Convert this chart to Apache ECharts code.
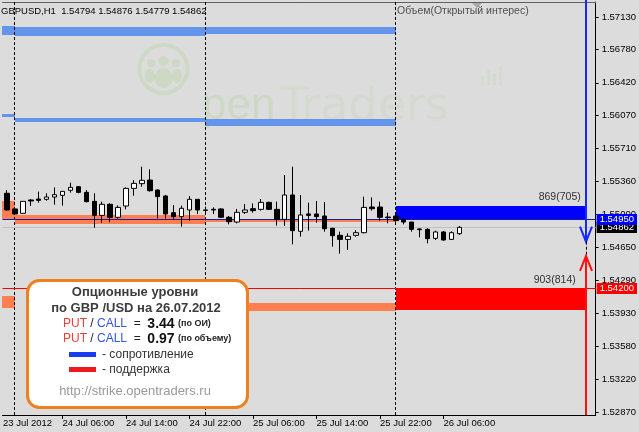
<!DOCTYPE html>
<html>
<head>
<meta charset="utf-8" />
<script src="https://cdn.jsdelivr.net/npm/echarts@6/dist/echarts.min.js"></script>
<title>GBPUSD,H1</title>
<style>
html, body { margin: 0; padding: 0; background: #dcdcdc; }
#main { width: 639px; height: 432px; }
</style>
</head>
<body>
<div id="main"></div>
<script>
// hours counted from 24 Jul 2012 00:00, first bar = 23 Jul 23:00
var firstHour = -1;
var opens  = [1.55229,1.55060,1.55013,1.55157,1.55167,1.55164,1.55189,1.55207,1.55261,1.55300,
              1.55239,1.55142,1.54991,1.55110,1.54970,1.55092,1.55282,1.55333,1.55372,1.55264,
              1.55200,1.55020,1.54977,1.55049,1.55164,1.55049,1.55056,1.55060,1.54970,1.54919,
              1.55024,1.55063,1.55056,1.55131,1.55056,1.54948,1.55211,1.54819,1.55006,1.55006,
              1.54984,1.54851,1.54776,1.54732,1.54776,1.54804,1.55081,1.55081,1.54973,1.54984,
              1.54948,1.54919,1.54844,1.54840,1.54743,1.54812,1.54732,1.54794];
var closes = [1.55049,1.55006,1.55142,1.55146,1.55153,1.55189,1.55214,1.55250,1.55293,1.55239,
              1.55139,1.54991,1.55110,1.54970,1.55077,1.55282,1.55336,1.55369,1.55257,1.55193,
              1.55006,1.54977,1.55067,1.55164,1.55049,1.55045,1.55049,1.54970,1.54923,1.55024,
              1.55049,1.55042,1.55131,1.55056,1.54948,1.55211,1.54826,1.54995,1.54991,1.54977,
              1.54847,1.54772,1.54732,1.54765,1.54804,1.55077,1.55063,1.54970,1.54966,1.54934,
              1.54919,1.54840,1.54837,1.54740,1.54812,1.54725,1.54804,1.54862];
var lows   = [1.55042,1.54995,1.55010,1.55092,1.55128,1.55149,1.55106,1.55096,1.55236,1.55229,
              1.55131,1.54858,1.54912,1.54916,1.54955,1.55056,1.55203,1.55300,1.55247,1.54959,
              1.54955,1.54952,1.54869,1.54934,1.55006,1.55013,1.55006,1.54966,1.54894,1.54905,
              1.55006,1.55020,1.55042,1.55049,1.54880,1.54876,1.54679,1.54761,1.54826,1.54912,
              1.54815,1.54653,1.54578,1.54617,1.54761,1.54797,1.55042,1.54934,1.54905,1.54923,
              1.54894,1.54815,1.54754,1.54689,1.54725,1.54718,1.54725,1.54779];
var highs  = [1.55264,1.55067,1.55145,1.55167,1.55247,1.55229,1.55293,1.55252,1.55344,1.55308,
              1.55264,1.55229,1.55139,1.55121,1.55099,1.55293,1.55372,1.55516,1.55487,1.55272,
              1.55211,1.55103,1.55096,1.55200,1.55167,1.55085,1.55077,1.55067,1.54984,1.55060,
              1.55113,1.55121,1.55167,1.55139,1.55139,1.55426,1.55516,1.55211,1.55128,1.55146,
              1.55135,1.54858,1.54815,1.54797,1.54833,1.55193,1.55185,1.55139,1.55020,1.55006,
              1.54970,1.54919,1.54851,1.54851,1.54826,1.54822,1.54819,1.54876];

var priceTicks = [1.5713,1.5678,1.5642,1.5607,1.5571,1.5536,1.5500,1.5465,1.5429,1.5393,1.5358,1.5322,1.5287];
var timeTicks  = [-1.5, 6, 14, 22, 30, 38, 46, 54];
var timeLabels = ['23 Jul 2012','24 Jul 06:00','24 Jul 14:00','24 Jul 22:00','25 Jul 06:00','25 Jul 14:00','25 Jul 22:00','26 Jul 06:00'];
var dayStarts  = [0, 24, 48];

// option levels: [fromHour, toHour, priceTop, priceBottom]
var resistBands = [[-1.6, 0, 1.57033, 1.56936], [0, 24, 1.57022, 1.56925], [24, 48, 1.57022, 1.56947],
                   [-1.6, 0, 1.56084, 1.56052], [0, 24, 1.56041, 1.55998], [24, 48, 1.56030, 1.55955]];
var supportBands = [[-1.6, 0, 1.55149, 1.54948], [0, 24, 1.54995, 1.54901], [24, 48, 1.54955, 1.54919],
                    [-1.6, 0, 1.54121, 1.53992], [24, 48, 1.54049, 1.53963]];
// today's zones: [fromHour, toHour, priceTop, priceBottom, openInterest, volume]
var callZone = [[48, 72.06, 1.55092, 1.54950, 869, 705]];
var putZone  = [[48, 72.06, 1.54200, 1.53970, 903, 814]];
var callLevel = 1.54950, putLevel = 1.54200;
var lastPrice = closes[closes.length - 1];
// arrow: [hour, call arrow tip, put arrow tip]
var arrows = [[72, 1.54707, 1.54553]];
var ratioOI = '3.44', ratioVol = '0.97';

var yMin = 1.52838, yMax = 1.57292;
var FONT = '"Liberation Sans", Arial, sans-serif';

var candleData = opens.map(function (o, i) {
  return [firstHour + i, o, closes[i], lows[i], highs[i]];
});

var myChart = echarts.init(document.getElementById('main'));

function zoneRender(color, labelShift) {
  return function (params, api) {
    var a = api.coord([api.value(0), api.value(2)]);
    var b = api.coord([api.value(1), api.value(3)]);
    var kids = [{ type: 'rect', shape: { x: Math.round(a[0]), y: Math.round(a[1]), width: Math.round(b[0]) - Math.round(a[0]), height: Math.round(b[1]) - Math.round(a[1]) }, style: { fill: color } }];
    if (labelShift != null) {
      kids.push({ type: 'text', x: b[0] - labelShift, y: a[1] - 9,
        style: { text: api.value(4) + '(' + api.value(5) + ')', fill: '#333', font: '10.5px ' + FONT, align: 'right', verticalAlign: 'middle' } });
    }
    return { type: 'group', children: kids };
  };
}

function levelRender(lineColor, tagBg, tagColor) {
  return function (params, api) {
    var cs = params.coordSys;
    var y = Math.floor(api.coord([0, api.value(0)])[1]) + 0.5;
    return { type: 'group', children: [
      { type: 'line', shape: { x1: cs.x, y1: y, x2: cs.x + cs.width, y2: y }, style: { stroke: lineColor, lineWidth: 1 } },
      { type: 'text', x: cs.x + cs.width + 1, y: y, z2: 10,
        style: { text: api.value(0).toFixed(5), fill: tagColor, backgroundColor: tagBg, padding: [1, 3, 0, 3], font: '9.5px ' + FONT, align: 'left', verticalAlign: 'middle' } }
    ] };
  };
}

function separatorRender(params, api) {
  var cs = params.coordSys;
  var x = Math.floor(api.coord([api.value(0), yMin])[0]) + 0.5;
  return { type: 'line', shape: { x1: x, y1: cs.y, x2: x, y2: cs.y + cs.height }, style: { stroke: '#000', lineWidth: 1, lineDash: [3, 2] } };
}

function arrowRender(params, api) {
  var cs = params.coordSys;
  var tip = api.coord([api.value(0), api.value(1)]);
  var base = api.coord([api.value(0), api.value(2)]);
  var x = Math.round(tip[0]);
  var t = tip[1], b = base[1];
  return { type: 'group', children: [
    { type: 'line', shape: { x1: x, y1: cs.y - 2, x2: x, y2: t }, style: { stroke: '#1428ff', lineWidth: 2 } },
    { type: 'polyline', shape: { points: [[x - 6, t - 15], [x, t], [x + 6, t - 15]] }, style: { stroke: '#1428ff', lineWidth: 2, fill: null } },
    { type: 'line', shape: { x1: x + 0.5, y1: t, x2: x + 0.5, y2: b }, style: { stroke: '#000', lineWidth: 1, lineDash: [3, 2] } },
    { type: 'line', shape: { x1: x, y1: b, x2: x, y2: cs.y + cs.height }, style: { stroke: '#ff1010', lineWidth: 2 } },
    { type: 'polyline', shape: { points: [[x - 6, b + 15], [x, b], [x + 6, b + 15]] }, style: { stroke: '#ff1010', lineWidth: 2, fill: null } }
  ] };
}

var last = candleData[candleData.length - 1];
var header = 'GBPUSD,H1  ' + [last[1], last[4], last[3], last[2]].map(function (v) { return v.toFixed(5); }).join(' ');

var wmDark = 'rgba(170,210,140,0.28)';
var wmLight = 'rgba(185,215,165,0.22)';

function onTop(list) {
  return list.map(function (el) { el.z = 100; el.silent = true; return el; });
}

var richRatio = {
  p: { fill: '#e8413c', font: '12px ' + FONT },
  c: { fill: '#3355dd', font: '12px ' + FONT },
  n: { fill: '#111', font: 'bold 14px ' + FONT },
  s: { fill: '#222', font: 'bold 9px ' + FONT }
};

var legendBox = onTop([
  { type: 'rect', shape: { x: 27.5, y: 280.5, width: 220, height: 127, r: 12 }, style: { fill: '#ffffff', stroke: '#f0801e', lineWidth: 3 } },
  { type: 'text', x: 135, y: 292, style: { text: 'Опционные уровни', font: 'bold 13px ' + FONT, fill: '#3c3c3c', align: 'center', verticalAlign: 'middle' } },
  { type: 'text', x: 136, y: 308, style: { text: 'по GBP /USD на 26.07.2012', font: 'bold 13px ' + FONT, fill: '#3c3c3c', align: 'center', verticalAlign: 'middle' } },
  { type: 'text', x: 63, y: 324, style: { text: '{p|PUT} / {c|CALL}  =  {n|' + ratioOI + '} {s|(по ОИ)}', font: '12px ' + FONT, fill: '#222', verticalAlign: 'middle', rich: richRatio } },
  { type: 'text', x: 63, y: 339, style: { text: '{p|PUT} / {c|CALL}  =  {n|' + ratioVol + '} {s|(по объему)}', font: '12px ' + FONT, fill: '#222', verticalAlign: 'middle', rich: richRatio } },
  { type: 'rect', shape: { x: 69, y: 352, width: 27, height: 5 }, style: { fill: '#1a3cf0' } },
  { type: 'text', x: 102, y: 355, style: { text: '- сопротивление', font: '12px ' + FONT, fill: '#333', verticalAlign: 'middle' } },
  { type: 'rect', shape: { x: 69, y: 367, width: 27, height: 5 }, style: { fill: '#f01818' } },
  { type: 'text', x: 102, y: 370, style: { text: '- поддержка', font: '12px ' + FONT, fill: '#333', verticalAlign: 'middle' } },
  { type: 'text', x: 135, y: 391, style: { text: 'http://strike.opentraders.ru', font: '13px ' + FONT, fill: '#9a9a9a', align: 'center', verticalAlign: 'middle' } }
]);

var watermark = [
  { type: 'circle', shape: { cx: 163.5, cy: 69, r: 24 }, style: { fill: null, stroke: wmDark, lineWidth: 4 } },
  { type: 'circle', shape: { cx: 151, cy: 63, r: 4 }, style: { fill: wmDark } },
  { type: 'circle', shape: { cx: 163.5, cy: 61, r: 5 }, style: { fill: wmDark } },
  { type: 'circle', shape: { cx: 176, cy: 63, r: 4 }, style: { fill: wmDark } },
  { type: 'ellipse', shape: { cx: 163.5, cy: 78, rx: 9, ry: 10 }, style: { fill: wmDark } },
  { type: 'ellipse', shape: { cx: 150, cy: 76, rx: 5, ry: 7 }, style: { fill: wmDark } },
  { type: 'ellipse', shape: { cx: 177, cy: 76, rx: 5, ry: 7 }, style: { fill: wmDark } },
  { type: 'text', x: 202, y: 85, style: { text: 'pen', font: '44px ' + FONT, fill: wmDark, verticalAlign: 'alphabetic' } },
  { type: 'text', x: 280, y: 85, style: { text: 'Traders', font: '46px "DejaVu Sans"', fill: wmLight, verticalAlign: 'alphabetic' } },
  { type: 'rect', shape: { x: 481, y: 76, width: 3, height: 9 }, style: { fill: wmLight } },
  { type: 'rect', shape: { x: 487, y: 70, width: 3, height: 15 }, style: { fill: wmLight } },
  { type: 'rect', shape: { x: 493, y: 73, width: 3, height: 12 }, style: { fill: wmLight } },
  { type: 'rect', shape: { x: 499, y: 66, width: 3, height: 19 }, style: { fill: wmLight } }
].map(function (el) { el.z = 0; el.silent = true; return el; });

option = {
  backgroundColor: '#dcdcdc',
  animation: false,
  grid: { left: 0, right: 41, top: 2, bottom: 17 },
  xAxis: [{
    type: 'value', min: -1.5625, max: 73.1875, position: 'bottom',
    axisLine: { show: true, onZero: false, lineStyle: { color: '#000', width: 1 } },
    axisTick: { show: true, length: 4, customValues: timeTicks.slice(1), lineStyle: { color: '#000' } },
    axisLabel: {
      customValues: timeTicks, align: 'left', margin: 3, color: '#000', fontSize: 9.5, fontFamily: FONT,
      formatter: function (v) { return timeLabels[timeTicks.indexOf(v)] || ''; }
    },
    splitLine: { show: false }
  }, {
    type: 'value', min: -1.5625, max: 73.1875, position: 'top',
    axisLine: { show: true, onZero: false, lineStyle: { color: '#606060', width: 1 } },
    axisTick: { show: false }, axisLabel: { show: false }, splitLine: { show: false }
  }],
  yAxis: {
    type: 'value', position: 'right', min: yMin, max: yMax,
    axisLine: { show: true, onZero: false, lineStyle: { color: '#000', width: 1 } },
    axisTick: { show: true, length: 3, customValues: priceTicks, lineStyle: { color: '#000' } },
    axisLabel: {
      customValues: priceTicks, margin: 6, color: '#000', fontSize: 9.5, fontFamily: FONT,
      formatter: function (v) { return v.toFixed(5); }
    },
    splitLine: { show: false }
  },
  series: [
    { type: 'custom', name: 'resist', z: 1, silent: true, clip: true, renderItem: zoneRender('#6495ed'), data: resistBands },
    { type: 'custom', name: 'support', z: 1, silent: true, clip: true, renderItem: zoneRender('#ff7f50'), data: supportBands },
    { type: 'custom', name: 'callZone', z: 1, silent: true, clip: false, renderItem: zoneRender('#0000ff', 6), data: callZone },
    { type: 'custom', name: 'putZone', z: 1, silent: true, clip: false, renderItem: zoneRender('#ff0000', 11), data: putZone },
    { type: 'custom', name: 'days', z: 2, silent: true, renderItem: separatorRender, data: dayStarts.map(function (d) { return [d]; }) },
    { type: 'custom', name: 'bid', z: 2, silent: true, clip: false, renderItem: levelRender('#c0c0c0', '#000', '#fff'), data: [[lastPrice]] },
    { type: 'custom', name: 'put', z: 2, silent: true, clip: false, renderItem: levelRender('#ff0000', '#ff0000', '#fff'), data: [[putLevel]] },
    { type: 'custom', name: 'call', z: 2, silent: true, clip: false, renderItem: levelRender('#1a1aa8', '#0000ff', '#fff'), data: [[callLevel]] },
    {
      type: 'candlestick', name: 'GBPUSD', z: 3, silent: true, barWidth: 5, data: candleData,
      itemStyle: { color: '#ffffff', color0: '#000000', borderColor: '#000000', borderColor0: '#000000', borderWidth: 1 },
      emphasis: { disabled: true }
    },
    { type: 'custom', name: 'arrows', z: 4, silent: true, clip: false, renderItem: arrowRender, data: arrows }
  ],
  graphic: watermark.concat([
    { type: 'text', x: 1, y: 11, z: 50, silent: true, style: { text: header, font: '9.5px ' + FONT, fill: '#000', verticalAlign: 'middle' } },
    { type: 'text', x: 397, y: 11, z: 50, silent: true, style: { text: 'Объем(Открытый интерес)', font: '10.5px ' + FONT, fill: '#505050', verticalAlign: 'middle' } },
    { type: 'polygon', z: 50, silent: true, shape: { points: [[472, 3], [482, 3], [477, 8]] }, style: { fill: '#a8a8a8' } }
  ]).concat(legendBox)
};

myChart.setOption(option);
</script>
</body>
</html>
